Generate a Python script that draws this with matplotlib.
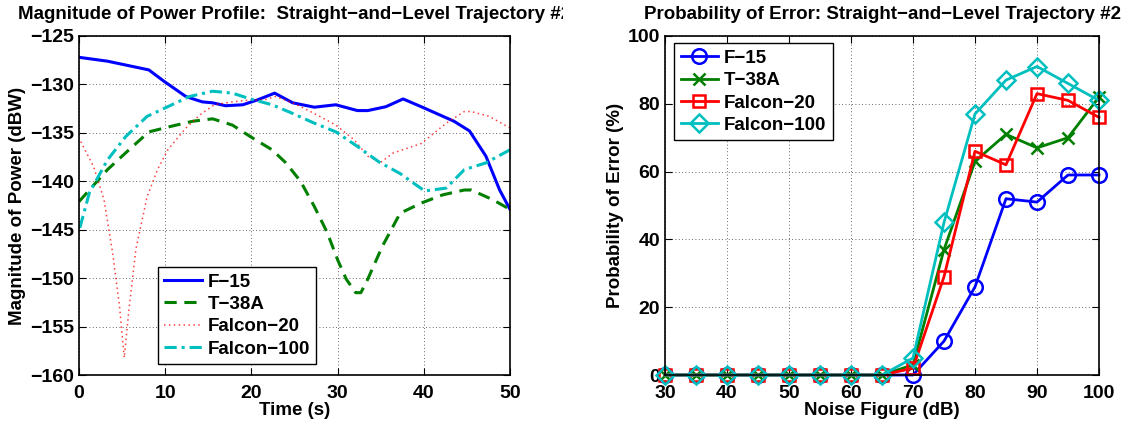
import matplotlib
matplotlib.use("Agg")
import matplotlib.pyplot as plt
from matplotlib.transforms import Bbox, TransformedBbox

plt.rcParams['font.family'] = ['Liberation Sans', 'DejaVu Sans']
plt.rcParams['font.weight'] = 'bold'
plt.rcParams['font.size'] = 13.5

# ---------------- Left panel data (time in s, power in dBW) ----------------
f15_t = [0, 3.3, 8.1, 9.9, 12.4, 14.3, 15.5, 17, 19, 20.7, 22.7, 24.8, 27.3, 29.8,
         32.3, 33.5, 35.6, 37.6, 39.7, 43.5, 45.3, 47.2, 48.8, 50]
f15_p = [-127.2, -127.6, -128.5, -129.7, -131.25, -131.8, -131.9, -132.2, -132.1,
         -131.6, -130.9, -131.9, -132.35, -132.1, -132.7, -132.7, -132.3, -131.5,
         -132.3, -133.8, -134.8, -137.4, -140.9, -142.9]

t38_t = [0, 3.3, 5.8, 8.1, 10.8, 13.2, 15.5, 17.8, 19.9, 22.4, 24, 25.7, 27.3, 28.8,
         30, 31, 32.1, 32.7, 33.5, 35.2, 37.25, 39.7, 42.2, 44.7, 45.5, 48, 50]
t38_p = [-142.1, -138.8, -136.75, -134.9, -134.3, -133.8, -133.55, -134.2, -135.4,
         -136.75, -138.1, -140.0, -142.6, -145.3, -148.1, -150.1, -151.5, -151.5,
         -150.1, -146.7, -143.3, -142.25, -141.4, -140.9, -140.9, -141.9, -142.9]

f20_t = [0.2, 1.7, 2.9, 3.9, 4.7, 5.25, 5.8, 6.6, 7.9, 9.1, 10.3, 12.4, 14.1, 15.7,
         17.8, 19.9, 21.5, 22.8, 24.8, 27.3, 29.8, 31.9, 33.5, 35, 36.4, 39.7, 42.6,
         44.7, 45.5, 47.6, 50]
f20_p = [-135.9, -138.5, -141.9, -147.4, -152.9, -158.2, -153.2, -147.0, -141.6,
         -138.8, -136.75, -134.5, -133.1, -132.1, -131.8, -131.6, -131.6, -131.25,
         -131.9, -133.0, -134.2, -135.7, -137.4, -138.05, -137.1, -136.1, -134.0,
         -132.8, -132.8, -133.3, -134.5]

f100_t = [0.1, 1.2, 3.3, 5.4, 7.9, 10.3, 12.8, 15.5, 17.8, 19.9, 22.4, 24.8, 27.3,
          29.8, 32.3, 34.8, 37.25, 40.1, 42.6, 44.7, 47.2, 50]
f100_p = [-144.8, -141.2, -137.8, -135.4, -133.3, -132.3, -131.25, -130.7, -130.9,
          -131.5, -132.1, -133.0, -134.0, -134.9, -136.4, -138.0, -139.2, -141.0,
          -140.7, -138.8, -138.1, -136.75]

# ---------------- Right panel data (noise figure in dB, error in %) ----------------
nf = [30, 35, 40, 45, 50, 55, 60, 65, 70, 75, 80, 85, 90, 95, 100]
pe_f15 = [0, 0, 0, 0, 0, 0, 0, 0, 0, 10, 26, 52, 51, 59, 59]
pe_t38 = [0, 0, 0, 0, 0, 0, 0, 0, 3, 37, 63, 71, 67, 70, 82]
pe_f20 = [0, 0, 0, 0, 0, 0, 0, 0, 2, 29, 66, 62, 83, 81, 76]
pe_f100 = [0, 0, 0, 0, 0, 0, 0, 0, 5, 45, 77, 87, 91, 86, 81]

names = ['F\u221215', 'T\u221238A', 'Falcon\u221220', 'Falcon\u2212100']
c_blue, c_green, c_red, c_cyan = '#0000ff', '#007f00', '#ff0000', '#00bfbf'

W, H = 1133, 423
fig = plt.figure(figsize=(W / 100, H / 100), dpi=100)
ax1 = fig.add_axes([79 / W, 1 - 375 / H, 431 / W, 339 / H])
ax2 = fig.add_axes([665 / W, 1 - 375 / H, 434 / W, 339 / H])


def style(ax):
    ax.tick_params(direction='in', top=True, right=True, length=5, width=0.8,
                   labelsize=14)
    ax.tick_params(axis='y', pad=3.5)
    ax.tick_params(axis='x', pad=7)
    for lab in ax.get_xticklabels() + ax.get_yticklabels():
        lab.set_fontweight('bold')
    ax.grid(True, color='black', linestyle=(0, (1, 3)), linewidth=0.6, alpha=0.8)
    for s in ax.spines.values():
        s.set_linewidth(1.2)
        s.set_color('black')


legkw = dict(fancybox=False, edgecolor='black', framealpha=1, borderaxespad=0,
             handlelength=2.0, handletextpad=0.3, borderpad=0.35, labelspacing=0.28,
             prop={'weight': 'bold', 'size': 13.5})

# Left
ax1.plot(f15_t, f15_p, color=c_blue, lw=2.2, label=names[0])
ax1.plot(t38_t, t38_p, color=c_green, lw=2.2, linestyle=(0, (4, 2.5)), label=names[1])
ax1.plot(f20_t, f20_p, color=c_red, lw=1.1, linestyle=(0, (1, 2.2)), alpha=0.75, label=names[2])
ax1.plot(f100_t, f100_p, color=c_cyan, lw=2.2, linestyle=(0, (4, 1.6, 1, 1.6)), label=names[3])
ax1.set_xlim(0, 50)
ax1.set_ylim(-160, -125)
ax1.set_xticks([0, 10, 20, 30, 40, 50])
ax1.set_yticks(list(range(-160, -124, 5)))
style(ax1)
ax1.set_xlabel('Time (s)', fontweight='bold', labelpad=0)
ax1.set_ylabel('Magnitude of Power (dBW)', fontweight='bold', labelpad=3)
t1 = ax1.set_title('Magnitude of Power Profile:  Straight\u2212and\u2212Level Trajectory #2',
                   fontweight='bold', fontsize=13.5, pad=12)
t1.set_clip_box(TransformedBbox(Bbox([[0, 0], [563 / W, 1]]), fig.transFigure))
t1.set_clip_on(True)
leg1 = ax1.legend(loc='upper left', bbox_to_anchor=(0.183, 0.319), **legkw)
leg1.get_frame().set_linewidth(1.0)

# Right
mk = dict(markerfacecolor='none', markeredgewidth=1.8, lw=2, clip_on=False)
ax2.plot(nf, pe_f15, color=c_blue, marker='o', markersize=10.5, label=names[0], **mk)
ax2.plot(nf, pe_t38, color=c_green, marker='x', markersize=8, label=names[1], **mk)
ax2.plot(nf, pe_f20, color=c_red, marker='s', markersize=9, label=names[2], **mk)
ax2.plot(nf, pe_f100, color=c_cyan, marker='D', markersize=9.5, label=names[3], **mk)
ax2.set_xlim(30, 100)
ax2.set_ylim(0, 100)
ax2.set_xticks(list(range(30, 101, 10)))
ax2.set_yticks(list(range(0, 101, 20)))
style(ax2)
ax2.set_xlabel('Noise Figure (dB)', fontweight='bold', labelpad=0)
ax2.set_ylabel('Probability of Error (%)', fontweight='bold', labelpad=3)
ax2.set_title('Probability of Error: Straight\u2212and\u2212Level Trajectory #2',
              fontweight='bold', fontsize=13.5, pad=12)
leg2 = ax2.legend(loc='upper left', bbox_to_anchor=(0.021, 0.979), **legkw)
leg2.get_frame().set_linewidth(1.0)

fig.savefig('out.png', dpi=100)
